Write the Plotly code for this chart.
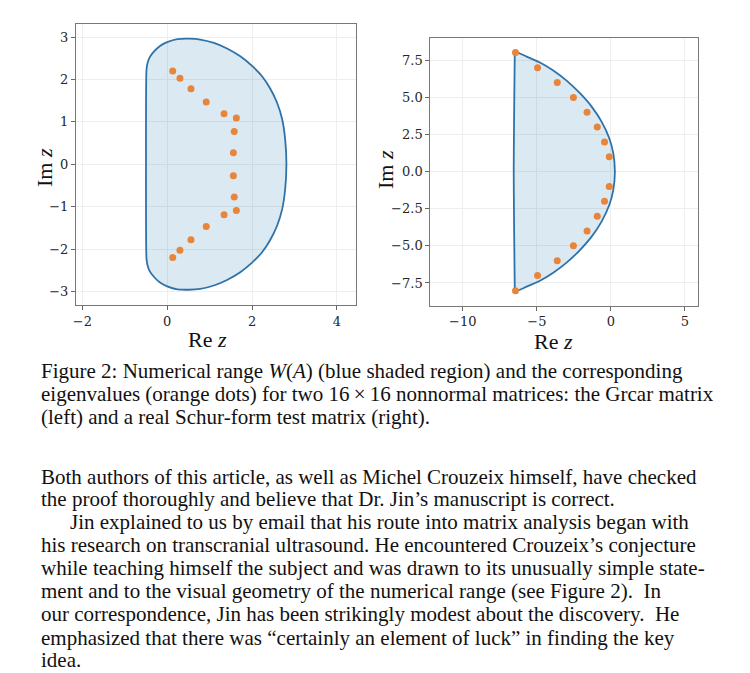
import plotly.graph_objects as go

# eigenvalues, Grcar matrix (left)
grcar_eig_re = [0.13, 0.30, 0.56, 0.92, 1.34, 1.63, 1.58, 1.56,
                1.56, 1.58, 1.63, 1.34, 0.92, 0.56, 0.30, 0.13]
grcar_eig_im = [2.20, 2.03, 1.78, 1.47, 1.19, 1.09, 0.77, 0.27,
                -0.27, -0.77, -1.09, -1.19, -1.47, -1.78, -2.03, -2.20]

# boundary of W(A), Grcar matrix
grcar_w_re = [-0.49, -0.47, -0.42, -0.31, -0.17, 0.00, 0.24, 0.51, 0.78, 1.10,
              1.41, 1.73, 2.00, 2.24, 2.43, 2.59, 2.71, 2.78, 2.81,
              2.78, 2.71, 2.59, 2.43, 2.24, 2.00, 1.73, 1.41, 1.10, 0.78,
              0.51, 0.24, 0.00, -0.17, -0.31, -0.42, -0.47, -0.49, -0.50, -0.49]
grcar_w_im = [2.20, 2.36, 2.51, 2.66, 2.79, 2.88, 2.95, 2.96, 2.94, 2.86,
              2.73, 2.54, 2.32, 2.07, 1.78, 1.45, 1.06, 0.59, 0.00,
              -0.59, -1.06, -1.45, -1.78, -2.07, -2.32, -2.54, -2.73, -2.86, -2.94,
              -2.96, -2.95, -2.88, -2.79, -2.66, -2.51, -2.36, -2.20, 0.00, 2.20]

# eigenvalues, Schur-form test matrix (right)
schur_eig_re = [-6.44, -4.95, -3.62, -2.53, -1.61, -0.92, -0.43, -0.11,
                -0.11, -0.43, -0.92, -1.61, -2.53, -3.62, -4.95, -6.44]
schur_eig_im = [8.02, 7.0, 6.0, 5.0, 4.0, 3.0, 2.0, 1.0,
                -1.0, -2.0, -3.0, -4.0, -5.0, -6.0, -7.0, -8.02]

# boundary of W(A), Schur-form test matrix
schur_w_re = [-6.48, -5.69, -4.79, -3.89, -2.99, -2.09, -1.30, -0.63, -0.11, 0.16, 0.27,
              0.16, -0.11, -0.63, -1.30, -2.09, -2.99, -3.89, -4.79, -5.69, -6.48,
              -6.49, -6.51, -6.54, -6.56, -6.54, -6.51, -6.49, -6.48]
schur_w_im = [8.07, 7.75, 7.35, 6.81, 6.13, 5.28, 4.38, 3.37, 2.25, 1.24, 0.00,
              -1.24, -2.25, -3.37, -4.38, -5.28, -6.13, -6.81, -7.35, -7.75, -8.07,
              -7.70, -6.00, -3.00, 0.00, 3.00, 6.00, 7.70, 8.07]

caption_lines = [
    "Figure 2: Numerical range <i>W</i>(<i>A</i>) (blue shaded region) and the corresponding",
    "eigenvalues (orange dots) for two 16\u2009\u00d7\u200916 nonnormal matrices: the Grcar matrix",
    "(left) and a real Schur-form test matrix (right).",
]
body_lines = [
    "Both authors of this article, as well as Michel Crouzeix himself, have checked",
    "the proof thoroughly and believe that Dr. Jin\u2019s manuscript is correct.",
    "Jin explained to us by email that his route into matrix analysis began with",
    "his research on transcranial ultrasound. He encountered Crouzeix\u2019s conjecture",
    "while teaching himself the subject and was drawn to its unusually simple state-",
    "ment and to the visual geometry of the numerical range (see Figure 2).  In",
    "our correspondence, Jin has been strikingly modest about the discovery.  He",
    "emphasized that there was \u201ccertainly an element of luck\u201d in finding the key",
    "idea.",
]

# the page puts the plot 8px in from the corner
OFF = 8
W, H = 750 - OFF, 673 - OFF
BLUE = "#2f72a8"
FILL = "rgba(31,119,180,0.16)"
ORANGE = "#e9853b"
TEXT_FONT = "Liberation Serif"


def px(x):
    return (x - OFF) / W


def py(y):
    return 1 - (y - OFF) / H


fig = go.Figure()

line_style = dict(color=BLUE, width=1.8, shape="spline", smoothing=0.6)
fig.add_trace(go.Scatter(x=grcar_w_re, y=grcar_w_im, mode="lines", fill="toself",
                         fillcolor=FILL, line=line_style,
                         xaxis="x", yaxis="y", hoverinfo="skip"))
fig.add_trace(go.Scatter(x=grcar_eig_re, y=grcar_eig_im, mode="markers",
                         marker=dict(color=ORANGE, size=7), xaxis="x", yaxis="y"))
fig.add_trace(go.Scatter(x=schur_w_re, y=schur_w_im, mode="lines", fill="toself",
                         fillcolor=FILL, line=line_style,
                         xaxis="x2", yaxis="y2", hoverinfo="skip"))
fig.add_trace(go.Scatter(x=schur_eig_re, y=schur_eig_im, mode="markers",
                         marker=dict(color=ORANGE, size=7), xaxis="x2", yaxis="y2"))

axis_style = dict(
    showline=True, mirror=True, linecolor="#777777", linewidth=1,
    ticks="outside", ticklen=4, tickcolor="#666666", tickwidth=1,
    showgrid=True, gridcolor="#eeeeee", gridwidth=0.8, zeroline=False,
    tickfont=dict(family="DejaVu Serif", size=13, color="#262626"),
    automargin=False, fixedrange=True,
)

fig.update_layout(
    width=W, height=H,
    margin=dict(l=0, r=0, t=0, b=0),
    paper_bgcolor="white", plot_bgcolor="white",
    showlegend=False,
    xaxis=dict(domain=[px(76), px(356)], range=[-2.15, 4.45], dtick=2, tick0=0,
               anchor="y", **axis_style),
    yaxis=dict(domain=[py(305), py(24.3)], range=[-3.32, 3.30], dtick=1,
               anchor="x", **axis_style),
    xaxis2=dict(domain=[px(430.3), px(698.3)], range=[-12.19, 5.9], dtick=5, tick0=0,
                anchor="y2", **axis_style),
    yaxis2=dict(domain=[py(305.7), py(37.7)], range=[-9.03, 9.02], dtick=2.5,
                tick0=0, tickformat=".1f", anchor="x2", **axis_style),
)

annotations = []
# axis titles
for x_px, y_px, text, angle in [(208, 339, "Re <i>z</i>", 0), (553, 341, "Re <i>z</i>", 0),
                                (44, 168, "Im <i>z</i>", -90), (386, 170, "Im <i>z</i>", -90)]:
    annotations.append(dict(x=px(x_px), y=py(y_px), xref="paper", yref="paper",
                            text=text, textangle=angle, showarrow=False,
                            xanchor="center", yanchor="middle",
                            font=dict(family=TEXT_FONT, size=22, color="#111111")))

caption_y = [371, 394, 417]
for line, y_px in zip(caption_lines, caption_y):
    annotations.append(dict(x=px(39), y=py(y_px), xref="paper", yref="paper",
                            text=line, showarrow=False, xanchor="left", yanchor="middle",
                            font=dict(family=TEXT_FONT, size=21, color="#111111")))

body_y = [477, 499, 522, 545, 568, 591, 614, 638, 660]
for i, (line, y_px) in enumerate(zip(body_lines, body_y)):
    x_px = 68 if i == 2 else 39
    annotations.append(dict(x=px(x_px), y=py(y_px), xref="paper", yref="paper",
                            text=line, showarrow=False, xanchor="left", yanchor="middle",
                            font=dict(family=TEXT_FONT, size=21, color="#111111")))

fig.update_layout(annotations=annotations)

fig.write_html("out.html")
